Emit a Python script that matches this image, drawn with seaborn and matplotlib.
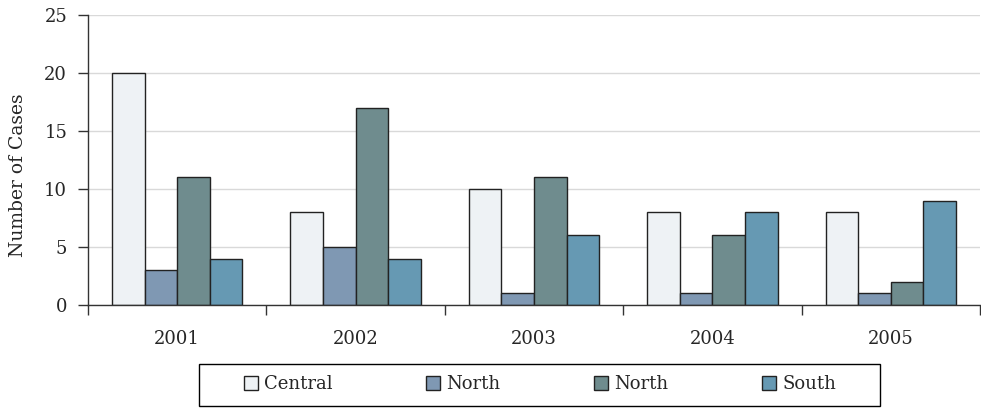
import numpy as np
import pandas as pd
import matplotlib
matplotlib.use('Agg')
import matplotlib.pyplot as plt
import seaborn as sns
from matplotlib.patches import Rectangle

# Data
years = ['2001', '2002', '2003', '2004', '2005']
series_keys = ['Central', 'North A', 'North B', 'South']
series_labels = ['Central', 'North', 'North', 'South']
central = [20, 8, 10, 8, 8]
north_a = [3, 5, 1, 1, 1]
north_b = [11, 17, 11, 6, 2]
south = [4, 4, 6, 8, 9]
colors = ['#EEF2F5', '#7F98B3', '#6F8C8E', '#6699B3']

df = pd.DataFrame({
    'year': years * 4,
    'series': np.repeat(series_keys, len(years)),
    'cases': central + north_a + north_b + south,
})

sns.set_style('white')
plt.rcParams['font.family'] = ['DejaVu Serif']

fig = plt.figure(figsize=(9.81, 4.08), dpi=100)
ax = fig.add_axes([88 / 981, 1 - 305 / 408, 892 / 981, 290 / 408])

sns.barplot(data=df, x='year', y='cases', hue='series', hue_order=series_keys,
            palette=colors, width=0.73, gap=0, edgecolor='#222222', linewidth=1,
            saturation=1, errorbar=None, ax=ax)

# Axes styling
ax.set_ylim(0, 25)
ax.set_yticks(range(0, 26, 5))
ax.set_xlim(-0.5, 4.5)
ax.set_axisbelow(True)
ax.grid(axis='y', color='#D9D9D9', linewidth=1)
ax.grid(axis='x', visible=False)
for side in ['top', 'right']:
    ax.spines[side].set_visible(False)
for side in ['left', 'bottom']:
    ax.spines[side].set_color('#333333')
    ax.spines[side].set_linewidth(1)

ax.tick_params(axis='y', direction='out', length=7, width=1, color='#333333',
               labelsize=13, pad=8, left=True)
ax.tick_params(axis='x', which='major', length=0, pad=18, labelsize=13)
ax.set_xticks(np.arange(-0.5, 5, 1), minor=True)
ax.tick_params(axis='x', which='minor', direction='out', length=7, width=1,
               color='#333333', bottom=True)

ax.set_xlabel('')
ax.set_ylabel('Number of Cases', fontsize=13.5)
ax.yaxis.set_label_coords(-0.068, 0.447)

# Legend below the chart, with a plain box around it
handles, labels = ax.get_legend_handles_labels()
ax.legend_.remove()
fig.legend(handles, series_labels, ncol=4, loc='center',
           bbox_to_anchor=(540 / 981, 1 - 384 / 408), frameon=False,
           handlelength=0.78, handleheight=0.78, handletextpad=0.33,
           columnspacing=5.2, fontsize=13)
fig.add_artist(Rectangle((199 / 981, 2 / 408), 681 / 981, 42 / 408,
                         transform=fig.transFigure, fill=False,
                         edgecolor='black', linewidth=1))

fig.savefig('out.png', dpi=100)
plt.close()
